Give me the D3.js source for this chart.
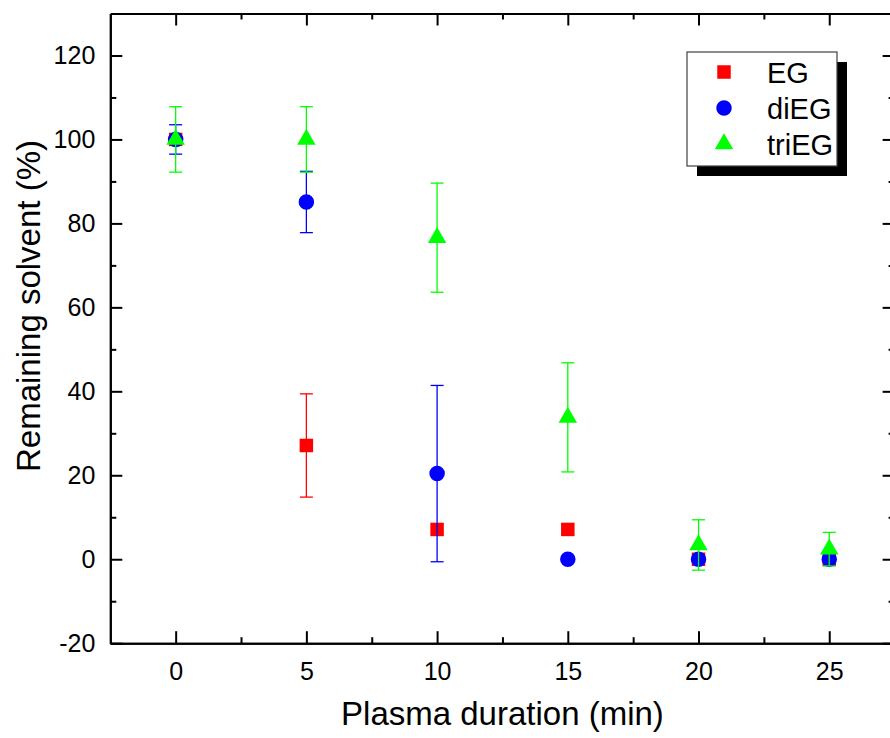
<!DOCTYPE html>
<html>
<head>
<meta charset="utf-8">
<script src="https://cdn.jsdelivr.net/npm/d3@7"></script>
<style>
  body { margin: 0; background: #fff; }
  svg { display: block; font-family: "Liberation Sans", Arial, sans-serif; }
</style>
</head>
<body>
<svg width="890" height="738"></svg>
<script>
const width = 890
const height = 738

// data
const durations = [0, 5, 10, 15, 20, 25];
const egValues = [100, 27.1, 7.1, 7.1, 0, 0];
const egErrors = [0, 12.3, 0, 0, 0, 0];
const diegValues = [100, 85.1, 20.4, 0, 0, 0];
const diegErrors = [3.5, 7.3, 21, 0, 0, 0];
const triegValues = [100, 100, 76.6, 33.8, 3.4, 2.4];
const triegErrors = [7.8, 7.8, 13, 13, 6, 4];

const xMajor = [0, 5, 10, 15, 20, 25];
const xMinor = [2.5, 7.5, 12.5, 17.5, 22.5];
const yMajor = [-20, 0, 20, 40, 60, 80, 100, 120];
const yMinor = [-10, 10, 30, 50, 70, 90, 110];

const series = [
  { name: 'EG', values: egValues, errors: egErrors, color: '#ff0000', symbol: d3.symbolSquare, size: 182 },
  { name: 'diEG', values: diegValues, errors: diegErrors, color: '#0000ff', symbol: d3.symbolCircle, size: 189 },
  { name: 'triEG', values: triegValues, errors: triegErrors, color: '#00ff00', symbol: d3.symbolTriangle, size: 148 }
];

const margin = { left: 110.3, top: 13.5, right: 894.6, bottom: 643.2 };

const x = d3.scaleLinear().domain([-2.5, 27.5]).range([margin.left, margin.right]);
const y = d3.scaleLinear().domain([-20, 130]).range([margin.bottom, margin.top]);

const svg = d3.select('svg');

// axes: ticks point inwards on all four sides
function styleAxis(g) {
  g.select('.domain').attr('stroke', '#000').attr('stroke-width', 2);
  g.selectAll('.tick line').attr('stroke', '#000').attr('stroke-width', 2);
  g.selectAll('.tick text').attr('fill', '#000').attr('font-size', 25);
}

function noLabels(g) { g.selectAll('.tick text').remove(); }

const plainFormat = d => String(d); // hyphen minus like the original

// bottom
svg.append('g')
  .attr('transform', `translate(0,${margin.bottom})`)
  .call(d3.axisBottom(x).tickValues(xMinor).tickSizeInner(-6).tickSizeOuter(0))
  .call(styleAxis).call(noLabels);
svg.append('g')
  .attr('transform', `translate(0,${margin.bottom})`)
  .call(d3.axisBottom(x).tickValues(xMajor).tickSizeInner(-12).tickSizeOuter(0).tickPadding(19).tickFormat(plainFormat))
  .call(styleAxis);

// top
svg.append('g')
  .attr('transform', `translate(0,${margin.top})`)
  .call(d3.axisTop(x).tickValues(xMinor).tickSizeInner(-6).tickSizeOuter(0))
  .call(styleAxis).call(noLabels);
svg.append('g')
  .attr('transform', `translate(0,${margin.top})`)
  .call(d3.axisTop(x).tickValues(xMajor).tickSizeInner(-12).tickSizeOuter(0))
  .call(styleAxis).call(noLabels);

// left
svg.append('g')
  .attr('transform', `translate(${margin.left},0)`)
  .call(d3.axisLeft(y).tickValues(yMinor).tickSizeInner(-6).tickSizeOuter(0))
  .call(styleAxis).call(noLabels);
svg.append('g')
  .attr('transform', `translate(${margin.left},0)`)
  .call(d3.axisLeft(y).tickValues(yMajor).tickSizeInner(-12).tickSizeOuter(0).tickPadding(15).tickFormat(plainFormat))
  .call(styleAxis);

// right
svg.append('g')
  .attr('transform', `translate(${margin.right},0)`)
  .call(d3.axisRight(y).tickValues(yMinor).tickSizeInner(-6).tickSizeOuter(0))
  .call(styleAxis).call(noLabels);
svg.append('g')
  .attr('transform', `translate(${margin.right},0)`)
  .call(d3.axisRight(y).tickValues(yMajor).tickSizeInner(-12).tickSizeOuter(0))
  .call(styleAxis).call(noLabels);

// axis titles
svg.append('text')
  .attr('x', (margin.left + margin.right) / 2)
  .attr('y', 725)
  .attr('text-anchor', 'middle')
  .attr('font-size', 33)
  .text('Plasma duration (min)');

svg.append('text')
  .attr('transform', 'translate(40,306) rotate(-90)')
  .attr('text-anchor', 'middle')
  .attr('font-size', 33)
  .text('Remaining solvent (%)');

// data: error bars then markers, series by series
const capHalf = 6.5;
series.forEach(s => {
  const g = svg.append('g');
  const pts = durations.map((d, i) => ({ x: d, v: s.values[i], e: s.errors[i] }));

  const bars = g.selectAll('.err')
    .data(pts.filter(p => p.e > 0))
    .join('g')
    .attr('stroke', s.color)
    .attr('stroke-width', 1.3);
  bars.append('line')
    .attr('x1', p => x(p.x)).attr('x2', p => x(p.x))
    .attr('y1', p => y(p.v + p.e)).attr('y2', p => y(p.v - p.e));
  bars.append('line')
    .attr('x1', p => x(p.x) - capHalf).attr('x2', p => x(p.x) + capHalf)
    .attr('y1', p => y(p.v + p.e)).attr('y2', p => y(p.v + p.e));
  bars.append('line')
    .attr('x1', p => x(p.x) - capHalf).attr('x2', p => x(p.x) + capHalf)
    .attr('y1', p => y(p.v - p.e)).attr('y2', p => y(p.v - p.e));

  g.selectAll('.pt')
    .data(pts)
    .join('path')
    .attr('transform', p => `translate(${x(p.x)},${y(p.v)})`)
    .attr('d', d3.symbol(s.symbol, s.size))
    .attr('fill', s.color);
});

// legend with drop shadow
const legend = svg.append('g').attr('transform', 'translate(687,52)');
legend.append('rect')
  .attr('x', 10).attr('y', 10).attr('width', 150).attr('height', 114)
  .attr('fill', '#000');
legend.append('rect')
  .attr('x', 0).attr('y', 0).attr('width', 150).attr('height', 114)
  .attr('fill', '#fff').attr('stroke', '#404040').attr('stroke-width', 1.2);

series.forEach((s, i) => {
  const ry = 20 + i * 36;
  legend.append('path')
    .attr('transform', `translate(37,${ry})`)
    .attr('d', d3.symbol(s.symbol, s.size))
    .attr('fill', s.color);
  legend.append('text')
    .attr('x', 80)
    .attr('y', ry + 10.5)
    .attr('font-size', 29)
    .text(s.name);
});
</script>
</body>
</html>
